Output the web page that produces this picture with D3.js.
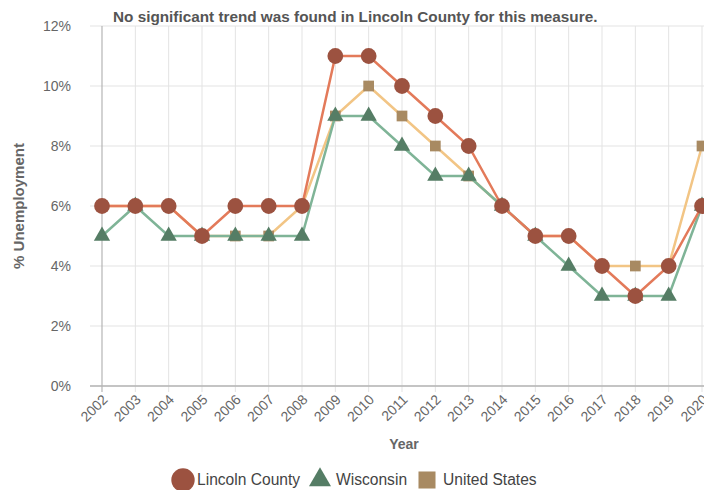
<!DOCTYPE html>
<html>
<head>
<meta charset="utf-8">
<script src="https://cdn.jsdelivr.net/npm/d3@7"></script>
<style>
  body { margin: 0; background: #fff; }
  svg { display: block; font-family: "Liberation Sans", Arial, sans-serif; }
</style>
</head>
<body>
<script>
// chart data:
var years = [2002, 2003, 2004, 2005, 2006, 2007, 2008, 2009, 2010, 2011,
             2012, 2013, 2014, 2015, 2016, 2017, 2018, 2019, 2020];
var lincoln = [6, 6, 6, 5, 6, 6, 6, 11, 11, 10, 9, 8, 6, 5, 5, 4, 3, 4, 6];
var wisconsin = [5, 6, 5, 5, 5, 5, 5, 9, 9, 8, 7, 7, 6, 5, 4, 3, 3, 3, 6];
var usa = [6, 6, 6, 5, 5, 5, 6, 9, 10, 9, 8, 7, 6, 5, 5, 4, 4, 4, 8];
var yTicks = [0, 2, 4, 6, 8, 10, 12];
var seriesNames = ["Lincoln County", "Wisconsin", "United States"];

var w = 704, h = 490;

var svg = d3.select("body")
    .append("svg")
    .attr("width", w)
    .attr("height", h);

// scales:
var x = d3.scalePoint()
    .domain(years)
    .range([102, 702]);

var y = d3.scaleLinear()
    .domain([0, 12])
    .range([386, 26]);

// horizontal grid:
svg.append("g")
    .selectAll("line")
    .data(yTicks)
    .enter()
    .append("line")
    .attr("x1", 90)
    .attr("x2", w)
    .attr("y1", function(d){ return y(d); })
    .attr("y2", function(d){ return y(d); })
    .style("stroke", "#e3e3e3")
    .style("stroke-width", 1);

// vertical grid (runs down past the axis as tick marks):
svg.append("g")
    .selectAll("line")
    .data(years.slice(1))
    .enter()
    .append("line")
    .attr("x1", function(d){ return x(d); })
    .attr("x2", function(d){ return x(d); })
    .attr("y1", 26)
    .attr("y2", 392)
    .style("stroke", "#e3e3e3")
    .style("stroke-width", 1);

// y axis line:
svg.append("line")
    .attr("x1", x(years[0]))
    .attr("x2", x(years[0]))
    .attr("y1", 26)
    .attr("y2", 392)
    .style("stroke", "#b5b5b5")
    .style("stroke-width", 1.2);

// x axis line:
svg.append("line")
    .attr("x1", 90)
    .attr("x2", w)
    .attr("y1", y(0))
    .attr("y2", y(0))
    .style("stroke", "#b5b5b5")
    .style("stroke-width", 1.5);

// y tick labels:
svg.append("g")
    .selectAll("text")
    .data(yTicks)
    .enter()
    .append("text")
    .attr("x", 71)
    .attr("y", function(d){ return y(d); })
    .attr("dy", "0.35em")
    .attr("text-anchor", "end")
    .style("font-size", "14px")
    .style("fill", "#666")
    .text(function(d){ return d + "%"; });

// x tick labels, rotated:
svg.append("g")
    .selectAll("text")
    .data(years)
    .enter()
    .append("text")
    .attr("text-anchor", "end")
    .attr("transform", function(d){
        return "translate(" + (x(d) + 3) + ",397) rotate(-45)";
    })
    .attr("dy", "0.35em")
    .style("font-size", "14px")
    .style("fill", "#666")
    .text(function(d){ return d; });

// axis titles:
svg.append("text")
    .attr("x", 404)
    .attr("y", 449)
    .attr("text-anchor", "middle")
    .style("font-size", "14px")
    .style("font-weight", "bold")
    .style("fill", "#666")
    .text("Year");

svg.append("text")
    .attr("transform", "translate(24,206) rotate(-90)")
    .attr("text-anchor", "middle")
    .style("font-size", "15px")
    .style("font-weight", "bold")
    .style("fill", "#666")
    .text("% Unemployment");

// title:
svg.append("text")
    .attr("x", 113)
    .attr("y", 22)
    .style("font-size", "15.3px")
    .style("font-weight", "bold")
    .style("fill", "#555")
    .text("No significant trend was found in Lincoln County for this measure.");

// series, bottom to top:
var series = [
    { name: seriesNames[2], values: usa, line: "#f2c585", fill: "#a88a62", symbol: d3.symbolSquare, size: 115 },
    { name: seriesNames[1], values: wisconsin, line: "#7fb497", fill: "#557d65", symbol: d3.symbolTriangle, size: 115 },
    { name: seriesNames[0], values: lincoln, line: "#e37a5a", fill: "#9c5240", symbol: d3.symbolCircle, size: 195 }
];

var line = d3.line()
    .x(function(d, i){ return x(years[i]); })
    .y(function(d){ return y(d); });

series.forEach(function(s){
    var g = svg.append("g");
    g.append("path")
        .datum(s.values)
        .attr("d", line)
        .style("fill", "none")
        .style("stroke", s.line)
        .style("stroke-width", 2.5);
    g.selectAll(".pt")
        .data(s.values)
        .enter()
        .append("path")
        .attr("class", "pt")
        .attr("d", d3.symbol().type(s.symbol).size(s.size))
        .attr("transform", function(d, i){
            return "translate(" + x(years[i]) + "," + y(d) + ")";
        })
        .style("fill", s.fill);
});

// legend:
var legend = [
    { name: seriesNames[0], fill: "#9c5240", symbol: d3.symbolCircle, size: 430, x: 183, tx: 197 },
    { name: seriesNames[1], fill: "#557d65", symbol: d3.symbolTriangle, size: 210, x: 320, tx: 336 },
    { name: seriesNames[2], fill: "#a88a62", symbol: d3.symbolSquare, size: 290, x: 427, tx: 443 }
];

var lg = svg.append("g")
    .selectAll("g")
    .data(legend)
    .enter()
    .append("g");

lg.append("path")
    .attr("d", function(d){ return d3.symbol().type(d.symbol).size(d.size)(); })
    .attr("transform", function(d){ return "translate(" + d.x + ",480)"; })
    .style("fill", function(d){ return d.fill; });

lg.append("text")
    .attr("x", function(d){ return d.tx; })
    .attr("y", 480)
    .attr("dy", "0.35em")
    .style("font-size", "15.6px")
    .style("fill", "#444")
    .text(function(d){ return d.name; });
</script>
</body>
</html>
